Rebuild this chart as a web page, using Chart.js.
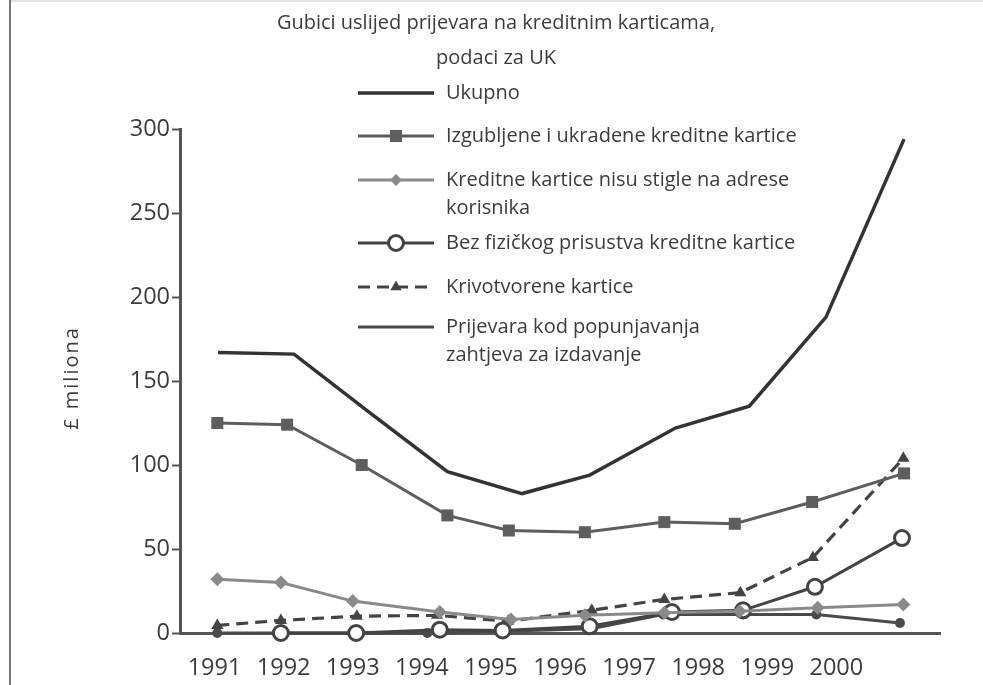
<!DOCTYPE html>
<html>
<head>
<meta charset="utf-8">
<title>Gubici uslijed prijevara na kreditnim karticama</title>
<script src="https://cdn.jsdelivr.net/npm/chart.js@4.4.0/dist/chart.umd.min.js"></script>
<style>
    html, body { margin: 0; padding: 0; background: #fff; }
    #wrap { width: 983px; height: 685px; position: relative; }
</style>
</head>
<body>
<div id="wrap"><canvas id="fraudChart" width="983" height="685"></canvas></div>
<script>
// Axis ticks
const tickYears = [1991, 1992, 1993, 1994, 1995, 1996, 1997, 1998, 1999, 2000];
const yTicks = [0, 50, 100, 150, 200, 250, 300];

// Series (x = where the point sits along the year axis, y = £ milijuna)
const ukupnoX = [1991.05, 1992.15, 1993.25, 1994.37, 1995.45, 1996.43, 1997.67, 1998.74, 1999.85, 2000.98];
const ukupno = [167, 166, 131, 96, 83, 94, 122, 135, 188, 294];

const izgubljeneX = [1991.04, 1992.05, 1993.13, 1994.37, 1995.26, 1996.36, 1997.51, 1998.53, 1999.65, 2000.98];
const izgubljene = [125, 124, 100, 70, 61, 60, 66, 65, 78, 95];

const nisuStigleX = [1991.04, 1991.96, 1993.0, 1994.26, 1995.29, 1996.36, 1997.51, 1998.6, 1999.73, 2000.97];
const nisuStigle = [32, 30, 19, 12.5, 8, 10.5, 12, 13, 15, 17];

// no circle is drawn at 1991 in the source
const bezKarticeX = [1991.96, 1993.05, 1994.26, 1995.17, 1996.43, 1997.62, 1998.65, 1999.69, 2000.95];
const bezKartice = [0, 0, 2, 1.5, 4, 12.5, 13.5, 27.5, 56.5];

const krivotvoreneX = [1991.04, 1991.96, 1993.06, 1994.22, 1995.25, 1996.46, 1997.51, 1998.61, 1999.66, 2000.97];
const krivotvorene = [4.5, 7.5, 10, 10.5, 7, 13.5, 20, 24, 45, 104];

const zahtjevX = [1991.04, 1991.96, 1993.05, 1994.08, 1995.17, 1996.45, 1997.49, 1998.65, 1999.71, 2000.92];
const zahtjev = [0, 0, 0, 0, 1, 2.5, 11, 11, 11, 6];

// Legend text (wrapped like the original)
const legendLines = [
    ['Ukupno'],
    ['Izgubljene i ukradene kreditne kartice'],
    ['Kreditne kartice nisu stigle na adrese', 'korisnika'],
    ['Bez fizičkog prisustva kreditne kartice'],
    ['Krivotvorene kartice'],
    ['Prijevara kod popunjavanja', 'zahtjeva za izdavanje']
];
const yAxisTitle = '£ miliona';

const FONT = "'Open Sans', 'DejaVu Sans', sans-serif";
const TEXT = '#3c3c3c';
Chart.defaults.font.family = FONT;
Chart.defaults.color = TEXT;

function points(xs, ys) {
    return xs.map((x, i) => ({ x: x, y: ys[i] }));
}

// Frame lines around the figure + spaced y-axis title
const framePlugin = {
    id: 'frame',
    beforeDraw(chart) {
        const ctx = chart.ctx;
        ctx.save();
        ctx.fillStyle = '#fff';
        ctx.fillRect(0, 0, chart.width, chart.height);
        ctx.strokeStyle = '#e2e2e2';
        ctx.lineWidth = 2;
        ctx.beginPath(); ctx.moveTo(10, 1); ctx.lineTo(chart.width, 1); ctx.stroke();
        ctx.strokeStyle = '#777';
        ctx.beginPath(); ctx.moveTo(10, 0); ctx.lineTo(10, chart.height); ctx.stroke();

        // y title, letter-spaced like the source
        const area = chart.chartArea;
        ctx.translate(72, (area.top + area.bottom) / 2 - 3);
        ctx.rotate(-Math.PI / 2);
        ctx.fillStyle = TEXT;
        ctx.font = '20px ' + FONT;
        ctx.letterSpacing = '2px';
        ctx.textAlign = 'center';
        ctx.textBaseline = 'middle';
        ctx.fillText(yAxisTitle, 0, 0);
        ctx.restore();
    }
};

// Vertical legend with line samples
const legendPlugin = {
    id: 'sideLegend',
    afterDraw(chart) {
        const ctx = chart.ctx;
        const rows = [93, 136, 180, 243, 287, 327];
        ctx.save();
        chart.data.datasets.forEach((ds, i) => {
            const y = rows[i];
            ctx.strokeStyle = ds.borderColor;
            ctx.lineWidth = ds.borderWidth;
            ctx.setLineDash(ds.borderDash || []);
            ctx.beginPath(); ctx.moveTo(358, y); ctx.lineTo(434, y); ctx.stroke();
            ctx.setLineDash([]);
            if (ds.legendRadius) {
                ctx.fillStyle = ds.pointBackgroundColor;
                ctx.strokeStyle = ds.pointBorderColor;
                ctx.lineWidth = ds.pointBorderWidth;
                Chart.helpers.drawPoint(ctx, {
                    pointStyle: ds.pointStyle,
                    radius: ds.legendRadius,
                    borderWidth: ds.pointBorderWidth,
                    rotation: 0
                }, 396, y);
            }
            ctx.fillStyle = TEXT;
            ctx.font = '20px ' + FONT;
            ctx.textBaseline = 'middle';
            ctx.textAlign = 'left';
            legendLines[i].forEach((t, j) => ctx.fillText(t, 446, y + j * 28));
        });
        ctx.restore();
    }
};

const ctx = document.getElementById('fraudChart').getContext('2d');
new Chart(ctx, {
    type: 'line',
    data: {
        datasets: [{
            label: legendLines[0].join(' '),
            data: points(ukupnoX, ukupno),
            borderColor: '#333',
            borderWidth: 3.5,
            pointRadius: 0,
            legendRadius: 0
        }, {
            label: legendLines[1].join(' '),
            data: points(izgubljeneX, izgubljene),
            borderColor: '#5e5e5e',
            borderWidth: 3,
            pointStyle: 'rect',
            pointRadius: 8.5,
            pointBackgroundColor: '#5e5e5e',
            pointBorderColor: '#5e5e5e',
            pointBorderWidth: 0,
            legendRadius: 8.5
        }, {
            label: legendLines[2].join(' '),
            data: points(nisuStigleX, nisuStigle),
            borderColor: '#8a8a8a',
            borderWidth: 3,
            pointStyle: 'rectRot',
            pointRadius: 7,
            pointBackgroundColor: '#8a8a8a',
            pointBorderColor: '#8a8a8a',
            pointBorderWidth: 0,
            legendRadius: 6
        }, {
            label: legendLines[3].join(' '),
            data: points(bezKarticeX, bezKartice),
            borderColor: '#444',
            borderWidth: 3,
            pointStyle: 'circle',
            pointRadius: 7.5,
            pointBackgroundColor: '#fff',
            pointBorderColor: '#444',
            pointBorderWidth: 3,
            legendRadius: 7.5
        }, {
            label: legendLines[4].join(' '),
            data: points(krivotvoreneX, krivotvorene),
            borderColor: '#444',
            borderWidth: 3.2,
            borderDash: [12, 7],
            pointStyle: 'triangle',
            pointRadius: 7,
            pointBackgroundColor: '#444',
            pointBorderColor: '#444',
            pointBorderWidth: 0,
            legendRadius: 6.5
        }, {
            label: legendLines[5].join(' '),
            data: points(zahtjevX, zahtjev),
            borderColor: '#4a4a4a',
            borderWidth: 3,
            pointStyle: 'circle',
            pointRadius: 5,
            pointBackgroundColor: '#4a4a4a',
            pointBorderColor: '#4a4a4a',
            pointBorderWidth: 0,
            legendRadius: 0
        }]
    },
    options: {
        responsive: false,
        animation: false,
        layout: { padding: { left: 52, right: 43, top: 0, bottom: 0 } },
        elements: { line: { tension: 0 } },
        datasets: { line: { clip: false } },
        plugins: {
            legend: { display: false },
            tooltip: { enabled: false },
            title: {
                display: true,
                text: ['Gubici uslijed prijevara na kreditnim karticama,', 'podaci za UK'],
                color: TEXT,
                font: { size: 20, weight: 'normal', lineHeight: 1.75 },
                padding: { top: 6, bottom: 53 }
            }
        },
        scales: {
            x: {
                type: 'linear',
                min: 1990.5,
                max: 2001.5,
                afterBuildTicks: axis => { axis.ticks = tickYears.map(v => ({ value: v })); },
                afterFit: axis => { axis.height = 52; },
                grid: { display: false, drawTicks: false },
                border: { display: true, color: '#555', width: 3 },
                ticks: {
                    padding: 21,
                    maxRotation: 0,
                    autoSkip: false,
                    font: { size: 23.5 },
                    color: TEXT,
                    callback: v => String(v)
                }
            },
            y: {
                min: 0,
                max: 300,
                afterBuildTicks: axis => { axis.ticks = yTicks.map(v => ({ value: v })); },
                afterFit: axis => { axis.width = 128; },
                grid: { display: true, drawOnChartArea: false, drawTicks: true, tickLength: 8, tickWidth: 2, tickColor: '#555' },
                border: { display: true, color: '#555', width: 3 },
                ticks: { padding: 2, font: { size: 23.5 }, color: TEXT }
            }
        }
    },
    plugins: [framePlugin, legendPlugin]
});
</script>
</body>
</html>
